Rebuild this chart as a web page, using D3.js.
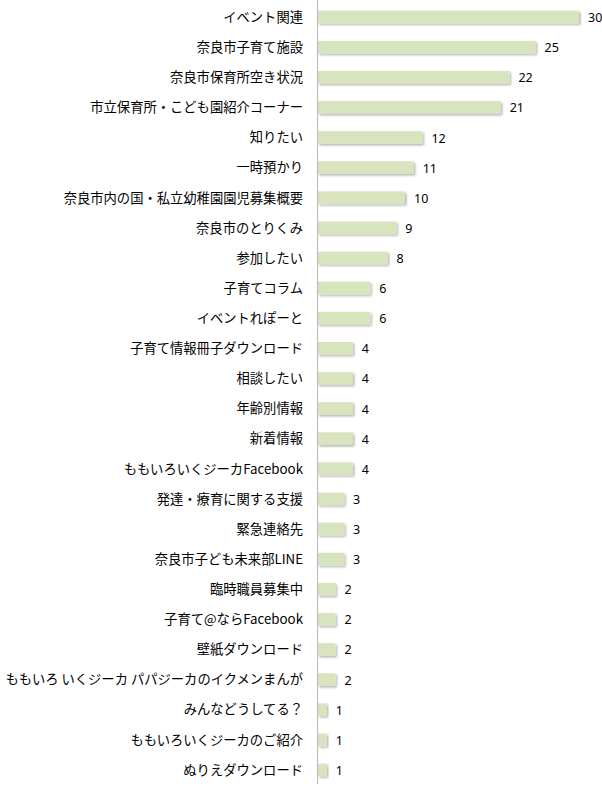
<!DOCTYPE html>
<html><head><meta charset="utf-8">
<script src="https://cdn.jsdelivr.net/npm/d3@7"></script>
<style>body{margin:0;background:#fff;}svg{display:block;}</style>
</head><body><div id="chart"></div>
<script>
const categories = ["イベント関連","奈良市子育て施設","奈良市保育所空き状況","市立保育所・こども園紹介コーナー","知りたい","一時預かり","奈良市内の国・私立幼稚園園児募集概要","奈良市のとりくみ","参加したい","子育てコラム","イベントれぽーと","子育て情報冊子ダウンロード","相談したい","年齢別情報","新着情報","ももいろいくジーカFacebook","発達・療育に関する支援","緊急連絡先","奈良市子ども未来部LINE","臨時職員募集中","子育て@ならFacebook","壁紙ダウンロード","ももいろ いくジーカ パパジーカのイクメンまんが","みんなどうしてる？","ももいろいくジーカのご紹介","ぬりえダウンロード"];
const values = [30,25,22,21,12,11,10,9,8,6,6,4,4,4,4,4,3,3,3,2,2,2,2,1,1,1];

const W = 602, H = 789;
const svg = d3.select("#chart").append("svg").attr("width", W).attr("height", H);
const defs = svg.append("defs");
const f = defs.append("filter").attr("id","sh").attr("x","-10%").attr("y","-30%").attr("width","130%").attr("height","200%");
f.append("feDropShadow").attr("dx",1.5).attr("dy",1.5).attr("stdDeviation",0.8).attr("flood-color","#000").attr("flood-opacity",0.3);

const x = d3.scaleLinear().domain([0,30]).range([318,579]);
const y = d3.scaleBand().domain(categories).range([2,785]).paddingInner(0.58).paddingOuter(0.29);

svg.append("g").selectAll("rect").data(values).join("rect")
  .attr("x", x(0)).attr("y", (d,i)=>y(categories[i]))
  .attr("width", d=>x(d)-x(0)).attr("height", y.bandwidth())
  .attr("fill","#d7e4bd").attr("filter","url(#sh)");

svg.append("line").attr("x1",317.5).attr("x2",317.5).attr("y1",0).attr("y2",784)
  .attr("stroke","#bfbfbf").attr("stroke-width",1.2);

svg.append("g").selectAll("text").data(categories).join("text")
  .attr("x",303).attr("y",d=>y(d)+y.bandwidth()/2).attr("dy","0.36em")
  .attr("text-anchor","end").attr("font-family","'Noto Sans CJK JP','Noto Sans',sans-serif")
  .attr("font-size",13.3).attr("fill","#000").text(d=>d);

svg.append("g").selectAll("text").data(values).join("text")
  .attr("x",d=>x(d)+9).attr("y",(d,i)=>y(categories[i])+y.bandwidth()/2).attr("dy","0.4em")
  .attr("font-family","'Noto Sans','DejaVu Sans',sans-serif")
  .attr("font-size",12.5).attr("fill","#000").text(d=>d);
</script></body></html>
